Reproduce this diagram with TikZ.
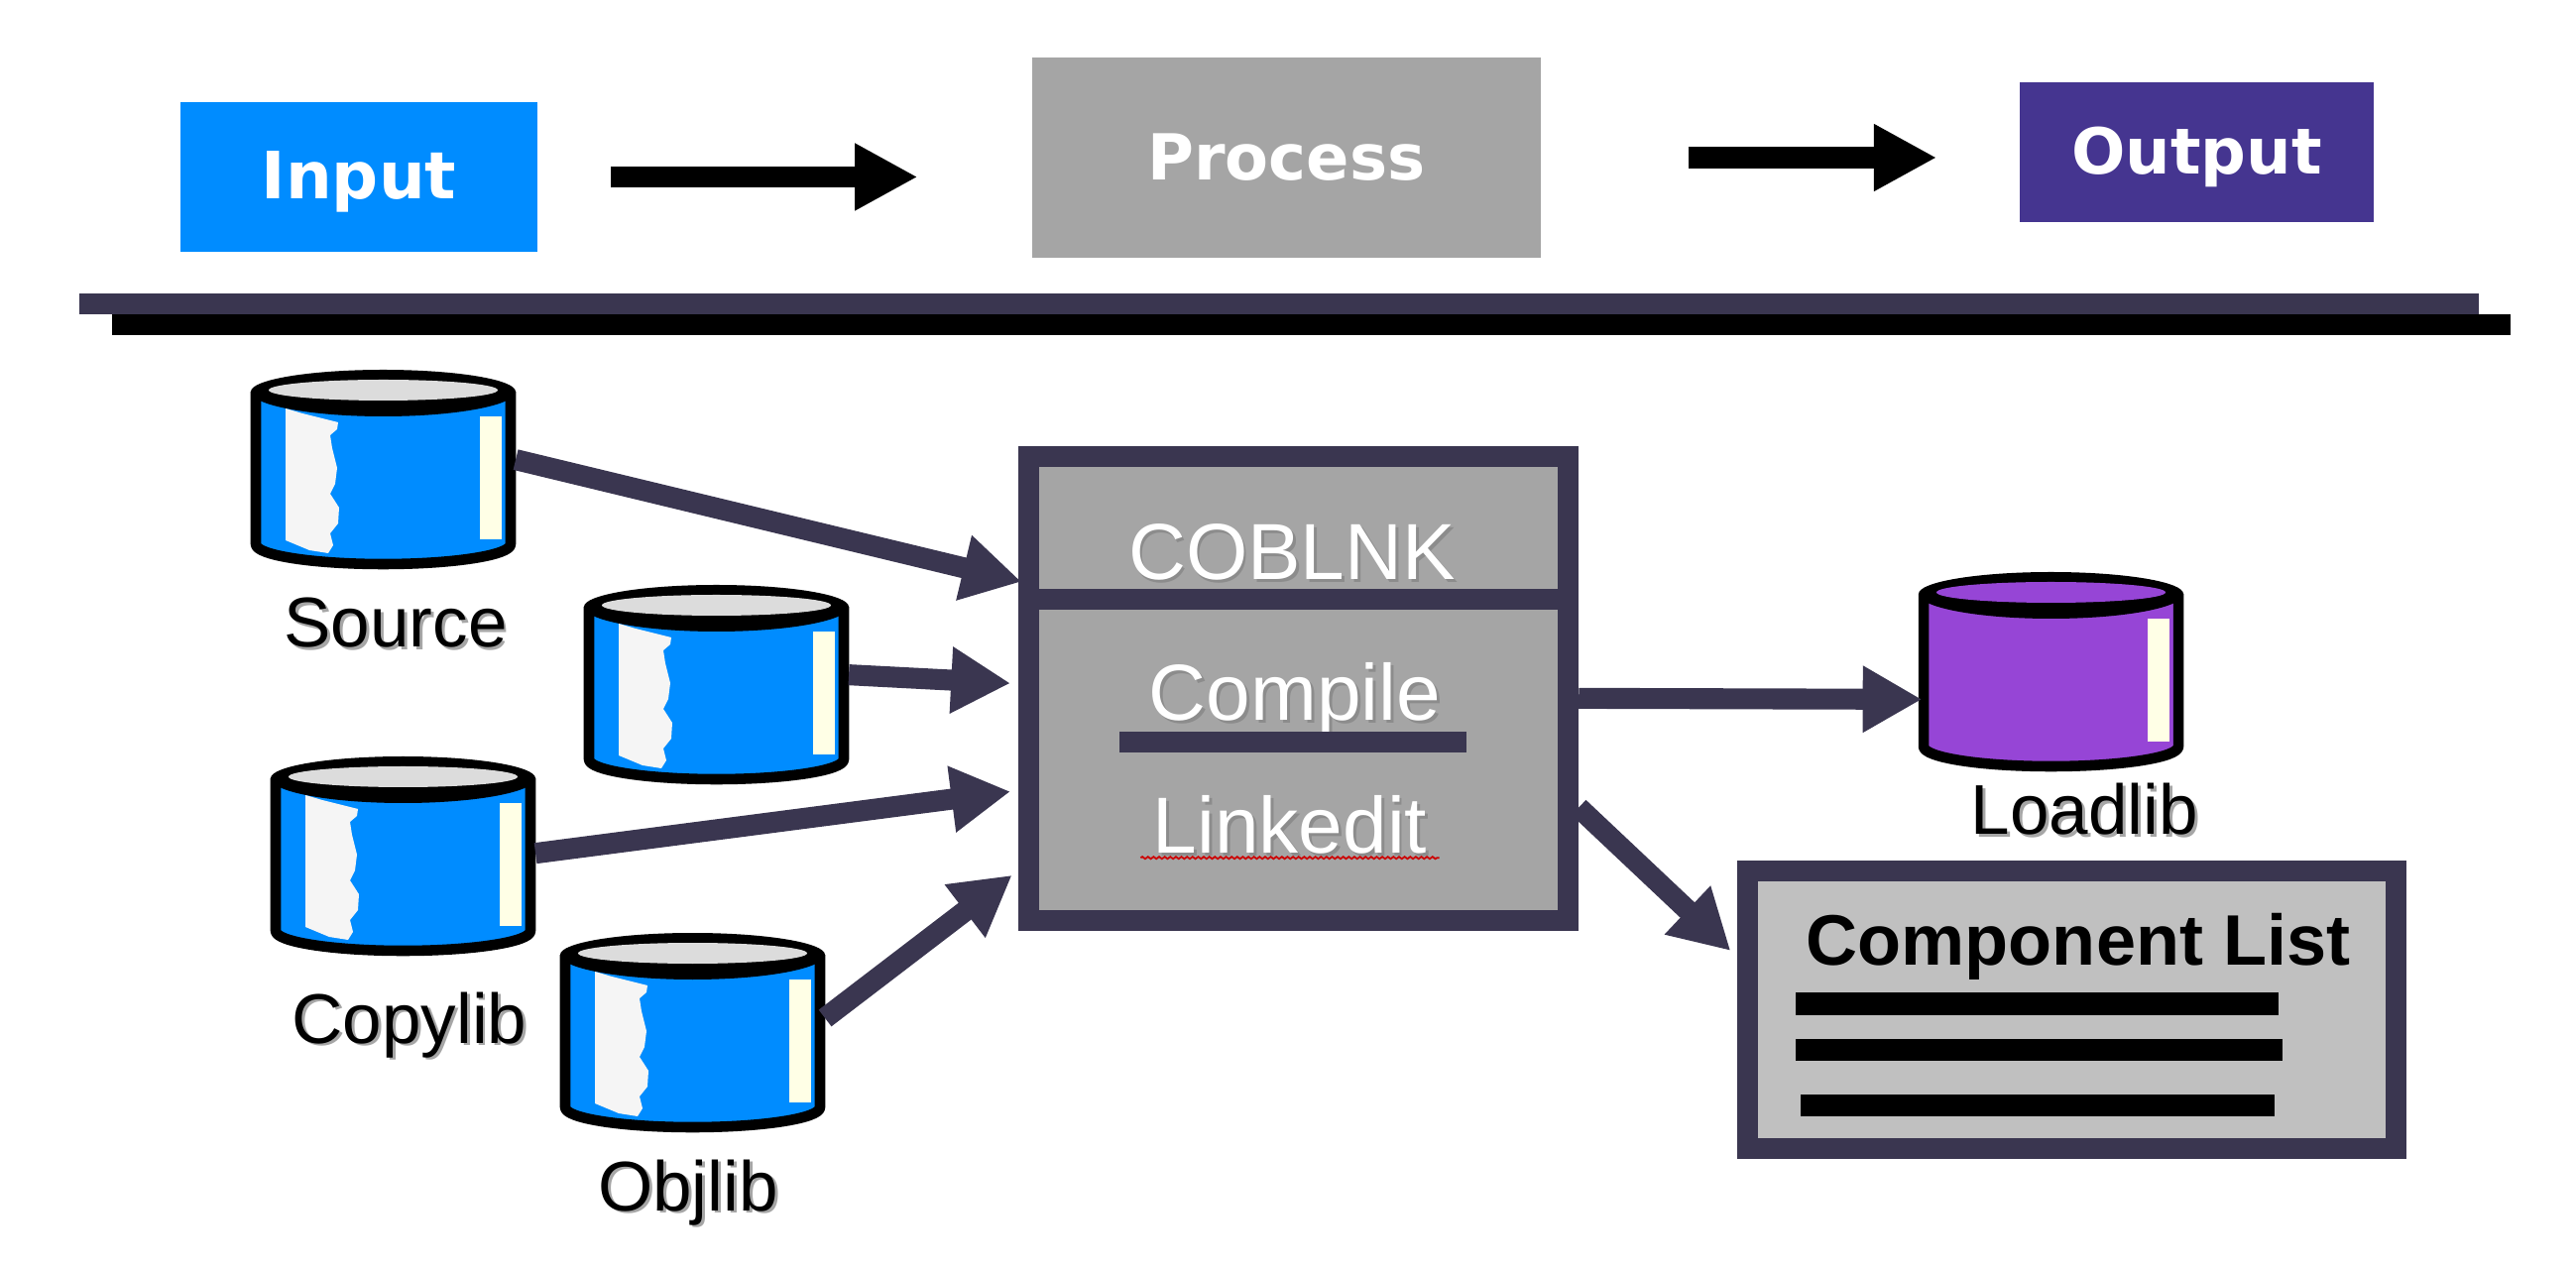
\documentclass[tikz,border=0pt]{standalone}
\usepackage{xcolor}
\usepackage{fontspec}
\setmainfont{Liberation Sans}
\newfontfamily\topfont{DejaVu Sans}
\usetikzlibrary{arrows.meta,
                decorations.pathmorphing}
\definecolor{inblue}{HTML}{008CFF}
\definecolor{midgray}{HTML}{A5A5A5}
\definecolor{outpurple}{HTML}{453590}
\definecolor{barnavy}{HTML}{3A3650}
\definecolor{cylpurple}{HTML}{9645D6}
\definecolor{lidgray}{HTML}{DCDCDC}
\definecolor{tornwhite}{HTML}{F5F5F5}
\definecolor{stripcream}{HTML}{FFFFE6}
\definecolor{listgray}{HTML}{C0C0C0}
% soft shadow behind a label
\newcommand{\shtxt}[2]{\leavevmode\rlap{\kern0.8pt\raisebox{-0.8pt}{\textcolor{#1}{#2}}}#2}
\tikzset{
  topbox/.style={rectangle,text=white,font=\topfont\bfseries\fontsize{18.2}{22}\selectfont},
  lowtext/.style={text height=16.5pt,text depth=3.8pt},
  whitelabel/.style={anchor=base,text=white,font=\fontsize{22.8}{27}\selectfont},
  cyllabel/.style={anchor=base,font=\fontsize{20.2}{24}\selectfont},
  toparrow/.style={-{Triangle[length=18pt,width=18pt]},line width=6pt,black},
  navyarrow/.style={-{Triangle[length=17pt,width=18pt]},line width=6pt,barnavy},
  pics/dbcyl/.style 2 args={code={
    \draw[fill=#1,line width=3pt,line join=round] (5,22) -- (5,176)
      arc[start angle=180,end angle=0,x radius=128.5,y radius=20] -- (262,22);
    \fill[stripcream] (231,47) rectangle (253,171);
    % rim, thicker at the front
    \fill[black] (0,22) arc[start angle=180,end angle=0,x radius=133.5,y radius=25]
      arc[start angle=0,end angle=-180,x radius=133.5,y radius=22];
    \fill[#2] (133.5,20.5) ellipse [x radius=115.5,y radius=10.5];
    \node[minimum width=2.67cm,minimum height=2cm,inner sep=0pt,outer sep=0pt] (-box) at (133.5,100) {};
  }},
  pics/dbtorn/.style={code={
    \fill[tornwhite] (35,39) -- (52,44) -- (72,49) -- (88,53) -- (87,60) -- (80,66)
      -- (82,79) -- (87,99) -- (85,115) -- (80,125) -- (89,139) -- (88,155)
      -- (80,165) -- (83,177) -- (78,185) -- (59,182) -- (35,172) -- cycle;
  }}
}
\begin{document}
\begin{tikzpicture}[x=0.01cm,y=-0.01cm]
\useasboundingbox (0,0) rectangle (2598,1280);

% top row
\node[topbox,lowtext,fill=inblue,minimum width=3.6cm,minimum height=1.5cm] (input) at (362,178.5) {\fontsize{18.7}{22}\selectfont Input};
\node[topbox,fill=midgray,minimum width=5.13cm,minimum height=2.02cm] (process) at (1297.5,159) {Process};
\node[topbox,lowtext,fill=outpurple,minimum width=3.57cm,minimum height=1.41cm] (output) at (2215.5,153.5) {Output};
\draw[toparrow,shorten <=20.8pt,shorten >=32.6pt] (input.east) -- (input.east -| process.west);
\draw[toparrow,shorten <=42pt,shorten >=23.6pt] (process.east) -- (process.east -| output.west);

% double rule
\fill[barnavy] (80,296) rectangle (2500,317);
\fill[black] (113,317) rectangle (2532,338);

% the cylinders
\foreach \nm/\px/\py in {dbsource/253/373,dbsecond/589/590,dbcopy/273/763,dbobj/565/941}{
  \pic (\nm) at (\px,\py) {dbcyl={inblue}{lidgray}};
  \pic at (\px,\py) {dbtorn};
}
\pic (dbload) at (1935,577) {dbcyl={cylpurple}{cylpurple}};

\foreach \nm/\px/\py/\x in {lblsource/399/653/Source,lblcopy/413/1052/Copylib,lblobj/694/1221/Objlib,lblload/2102.5/842/Loadlib}
  \node[cyllabel] (\nm) at (\px,\py) {\shtxt{black!35}{\x}};

% main box
\node[draw=barnavy,fill=midgray,line width=6pt,minimum width=5.44cm,minimum height=4.67cm] (coblnk) at (1309.5,694.5) {};
\fill[barnavy] (1040,594) rectangle (1571,615);
\node[whitelabel] (title) at (1303,585) {\shtxt{black!45}{COBLNK}};
\node[whitelabel] (compile) at (1306,727) {\shtxt{black!45}{Compile}};
\node[whitelabel] (linkedit) at (1301,861) {\shtxt{black!45}{Linkedit}};
\fill[barnavy] (1129,738) rectangle (1479,759);
\draw[red!80!black,line width=0.5pt,decorate,decoration={snake,amplitude=0.3pt,segment length=1.6pt}]
  ([yshift=-1.2pt]linkedit.base west) -- ([yshift=-1.2pt]linkedit.base east);

% component list
\node[draw=barnavy,fill=listgray,line width=6pt,minimum width=6.54cm,minimum height=2.79cm] (complist) at (2089.5,1018.5) {};
\node[anchor=base,font=\bfseries\fontsize{20.5}{24}\selectfont] (listtitle) at (2096,973) {Component List};
\fill[black] (1811,1001) rectangle (2298,1024);
\fill[black] (1811,1048) rectangle (2302,1070);
\fill[black] (1816,1104) rectangle (2294,1126);

% connectors
\draw[navyarrow,shorten >=-1pt] (dbsource-box.4) -- (coblnk.159.5);
\draw[navyarrow,shorten >=2.2pt] (dbsecond-box.4) -- (coblnk.179);
\draw[navyarrow,shorten >=2.2pt] (dbcopy-box.1) -- (coblnk.200);
\draw[navyarrow,shorten >=2.2pt] (dbobj-box.6) -- (coblnk.213.5);
\draw[navyarrow,shorten >=-1pt] (coblnk.-2.2) -- (dbload-box.192);
\draw[navyarrow,shorten >=2.5pt] (coblnk.-23) -- (complist.171.6);
\end{tikzpicture}
\end{document}
